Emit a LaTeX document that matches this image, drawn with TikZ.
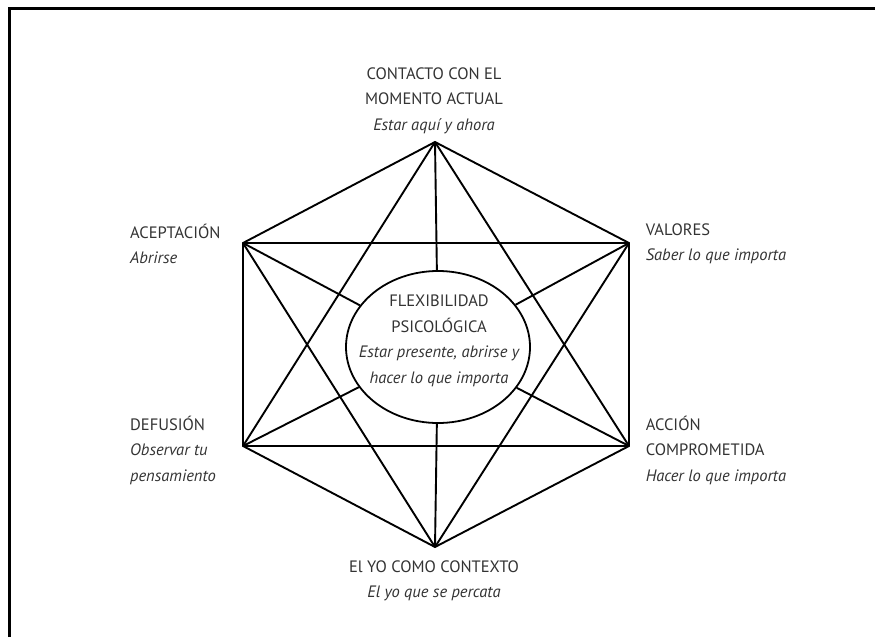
\documentclass[tikz,border=0pt]{standalone}
\usepackage{fontspec}
\setmainfont{PT Sans}
\usetikzlibrary{shapes.geometric}
\definecolor{txtgray}{HTML}{333333}
\tikzset{
  edge/.style={draw=black,line width=1.9pt},
  lbl/.style={inner sep=0pt,text=txtgray,font=\fontsize{16.5}{25.5}\selectfont},
  lblc/.style={lbl,align=center},
  lbll/.style={lbl,align=left,anchor=west},
  frame/.style={draw=black,line width=3pt}
}
\begin{document}
\begin{tikzpicture}[x=1pt,y=-1pt]
\useasboundingbox (0,0) rectangle (875,637);
\draw[frame] (9.5,637) -- (9.5,8.5) -- (875,8.5);
% vertices
\coordinate (T) at (435,142);
\coordinate (UL) at (243,243);
\coordinate (UR) at (629,243);
\coordinate (LL) at (243,446);
\coordinate (LR) at (629,446);
\coordinate (B) at (435,547);
% central ellipse
\node[ellipse,draw=black,line width=1.8pt,minimum width=184pt,minimum height=152pt,inner sep=0pt] (c) at (438,347) {};
% hexagon
\draw[edge] (T) -- (UR) -- (LR) -- (B) -- (LL) -- (UL) -- cycle;
% horizontals
\draw[edge] (UL) -- (UR);
\draw[edge] (LL) -- (LR);
% star triangles
\draw[edge] (T) -- (LL);
\draw[edge] (T) -- (LR);
\draw[edge] (B) -- (UL);
\draw[edge] (B) -- (UR);
% spokes to ellipse
\draw[edge] (T) -- (c);
\draw[edge] (B) -- (c);
\draw[edge] (UL) -- (c);
\draw[edge] (UR) -- (c);
\draw[edge] (LL) -- (c);
\draw[edge] (LR) -- (c);
% labels
\node[lblc] (lt) at (434,100.5) {CONTACTO CON EL\\MOMENTO ACTUAL\\\itshape Estar aquí y ahora};
\node[lbll] (lul) at (130,244) {ACEPTACIÓN\\\itshape Abrirse};
\node[lbll] (lur) at (645.6,244) {VALORES\\\itshape Saber lo que importa};
\node[lbll] (lll) at (130,450) {DEFUSIÓN\\\itshape Observar tu\\\itshape pensamiento};
\node[lbll] (llr) at (645.6,450) {ACCIÓN\\COMPROMETIDA\\\itshape Hacer lo que importa};
\node[lblc] (lb) at (434,581) {El YO COMO CONTEXTO\\\itshape El yo que se percata};
\node[lblc] (lc) at (439,341) {FLEXIBILIDAD\\PSICOLÓGICA\\\itshape Estar presente, abrirse y\\\itshape hacer lo que importa};
\end{tikzpicture}
\end{document}
